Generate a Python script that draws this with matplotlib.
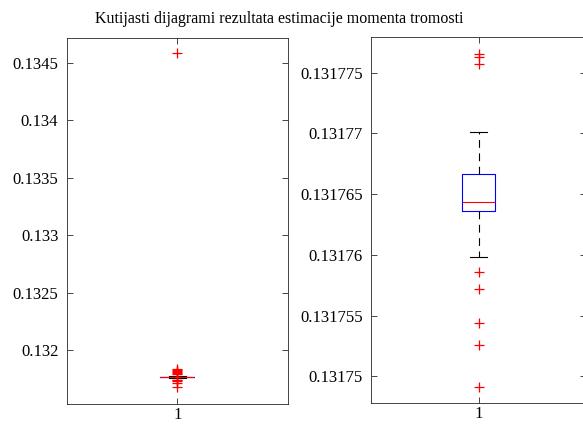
import matplotlib
matplotlib.use("Agg")
import matplotlib.pyplot as plt

plt.rcParams["font.family"] = ["Liberation Serif", "DejaVu Serif"]

title = "Kutijasti dijagrami rezultata estimacije momenta tromosti"

# boxplot statistics
left_stats = dict(q1=0.1317636, med=0.13176435, q3=0.1317667,
                  whislo=0.1317598, whishi=0.1317701)
left_fliers = [0.134584, 0.131835, 0.131825, 0.131815, 0.131806, 0.131797,
               0.131788, 0.131742, 0.131735, 0.131726, 0.131716, 0.131681]
left_yticks = [0.132, 0.1325, 0.133, 0.1335, 0.134, 0.1345]
left_yticklabels = ["0.132", "0.1325", "0.133", "0.1335", "0.134", "0.1345"]
left_ylim = (0.131530, 0.134718)

right_stats = dict(q1=0.1317636, med=0.13176435, q3=0.1317667,
                   whislo=0.1317598, whishi=0.1317701)
right_fliers = [0.13177654, 0.1317763, 0.13177574,
                0.1317586, 0.1317572, 0.1317544, 0.1317526, 0.1317491]
right_yticks = [0.13175, 0.131755, 0.13176, 0.131765, 0.13177, 0.131775]
right_yticklabels = ["0.13175", "0.131755", "0.13176", "0.131765", "0.13177", "0.131775"]
right_ylim = (0.1317478, 0.13177792)

xlabels = ["1"]

W, H = 583, 426
fig = plt.figure(figsize=(W / 100, H / 100), dpi=100)


def draw_box(rect, stats, fliers, yticks, yticklabels, ylim, width):
    ax = fig.add_axes(rect)
    s = dict(stats)
    s["fliers"] = fliers
    s["label"] = xlabels[0]
    ax.bxp([s], positions=[1], widths=[width], capwidths=[width / 2],
           showfliers=True,
           boxprops=dict(color="#0000ff", linewidth=0.8),
           medianprops=dict(color="#ff0000", linewidth=0.8),
           whiskerprops=dict(color="black", linewidth=0.8, linestyle=(0, (7, 5))),
           capprops=dict(color="black", linewidth=0.8),
           flierprops=dict(marker="+", color="#ff0000", markeredgecolor="#ff0000",
                           markerfacecolor="#ff0000",
                           markersize=7, markeredgewidth=0.9, linestyle="none"))
    ax.set_xlim(0.5, 1.5)
    ax.set_ylim(*ylim)
    ax.set_yticks(yticks)
    ax.set_yticklabels(yticklabels)
    ax.set_xticks([1])
    ax.set_xticklabels(xlabels)
    ax.tick_params(direction="in", top=True, right=True, length=4,
                   width=0.6, color="#262626", labelsize=12)
    ax.tick_params(axis="y", pad=6)
    ax.tick_params(axis="x", pad=2)
    for sp in ax.spines.values():
        sp.set_color("#262626")
        sp.set_linewidth(0.6)
    return ax


draw_box([66.7 / W, 1 - 404 / H, 221 / W, (404 - 37.7) / H],
         left_stats, left_fliers, left_yticks, left_yticklabels, left_ylim, 0.154)
draw_box([371 / W, 1 - 403 / H, 215 / W, (403 - 37.3) / H],
         right_stats, right_fliers, right_yticks, right_yticklabels, right_ylim, 0.149)

fig.text(279.5 / W, 1 - 19 / H, title, ha="center", va="center", fontsize=11.5)

fig.savefig("out.png", dpi=100)
plt.close(fig)
